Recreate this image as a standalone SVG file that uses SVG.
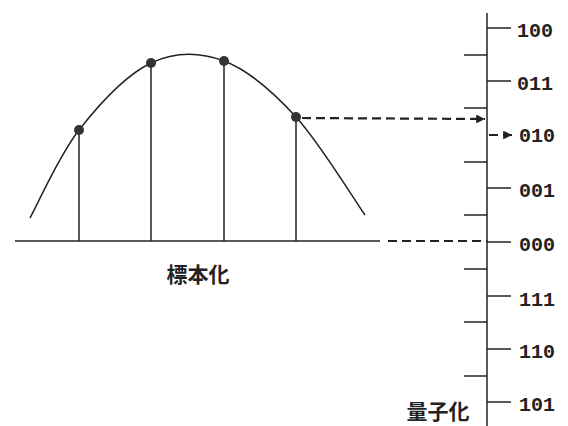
<svg xmlns="http://www.w3.org/2000/svg" width="568" height="426" viewBox="0 0 568 426">
<style>
.ln{stroke:#222;stroke-width:1.5;fill:none}
.dash{stroke:#222;stroke-width:2.2;fill:none;stroke-dasharray:9 5}
.num{font-family:"Liberation Mono","DejaVu Sans Mono",monospace;font-size:20px;font-weight:bold;fill:#222}
.cjk{font-family:"Noto Sans CJK JP","Noto Sans CJK SC",sans-serif;font-size:21px;font-weight:bold;fill:#222}
.dot{fill:#333}
</style>
<defs>
<marker id="ah" viewBox="0 0 10 10" refX="10" refY="5" markerWidth="4" markerHeight="4" orient="auto" markerUnits="strokeWidth">
<path d="M0,0 L10,5 L0,10 z" fill="#222"/>
</marker>
</defs>
<rect width="568" height="426" fill="#fff"/>
<g id="signal">
<path class="ln" d="M30,218 C38.2,203.3 58.8,155.8 79,130 C99.2,104.2 126.8,74.5 151,63 C175.2,51.5 199.8,52 224,61 C248.2,70 272.5,91.3 296,117 C319.5,142.7 353.5,198.7 365,215"/>
</g>
<g id="samples">
<line class="ln" x1="79" y1="130" x2="79" y2="241"/>
<line class="ln" x1="151" y1="63" x2="151" y2="241"/>
<line class="ln" x1="224" y1="61" x2="224" y2="241"/>
<line class="ln" x1="296" y1="117" x2="296" y2="241"/>
<circle class="dot" cx="79" cy="130" r="5"/>
<circle class="dot" cx="151" cy="63" r="5"/>
<circle class="dot" cx="224" cy="61" r="5"/>
<circle class="dot" cx="296" cy="117" r="5"/>
</g>
<g id="time-axis">
<line class="ln" x1="15" y1="241" x2="380" y2="241"/>
</g>
<g id="quant-axis">
<line class="ln" x1="487" y1="13" x2="487" y2="426"/>
<g class="ln">
<line x1="487" y1="28" x2="511" y2="28"/>
<line x1="487" y1="81" x2="511" y2="81"/>
<line x1="487" y1="188" x2="511" y2="188"/>
<line x1="487" y1="242" x2="511" y2="242"/>
<line x1="487" y1="296" x2="511" y2="296"/>
<line x1="487" y1="349" x2="511" y2="349"/>
<line x1="487" y1="402" x2="511" y2="402"/>
<line x1="464" y1="55" x2="487" y2="55"/>
<line x1="464" y1="108" x2="487" y2="108"/>
<line x1="464" y1="162" x2="487" y2="162"/>
<line x1="464" y1="215" x2="487" y2="215"/>
<line x1="464" y1="269" x2="487" y2="269"/>
<line x1="464" y1="322" x2="487" y2="322"/>
<line x1="464" y1="376" x2="487" y2="376"/>
</g>
</g>
<g id="connectors">
<line class="dash" x1="302" y1="118" x2="485" y2="119" marker-end="url(#ah)"/>
<line class="dash" x1="489" y1="135" x2="512" y2="135" stroke-dasharray="6 3" marker-end="url(#ah)"/>
<line class="dash" x1="388" y1="241" x2="487" y2="241"/>
</g>
<g id="labels">
<text class="num" x="517" y="37">100</text>
<text class="num" x="517" y="90">011</text>
<text class="num" x="519" y="142">010</text>
<text class="num" x="519" y="197">001</text>
<text class="num" x="519" y="251">000</text>
<text class="num" x="519" y="306">111</text>
<text class="num" x="519" y="358">110</text>
<text class="num" x="519" y="411">101</text>
<text class="cjk" x="198" y="282" text-anchor="middle">標本化</text>
<text class="cjk" x="438" y="419" text-anchor="middle" font-size="20">量子化</text>
</g>
</svg>
